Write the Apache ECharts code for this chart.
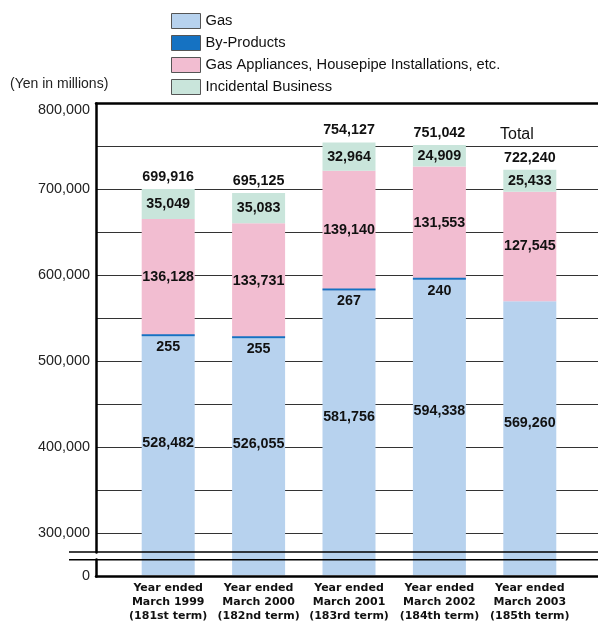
<!DOCTYPE html>
<html>
<head>
<meta charset="utf-8">
<script src="https://cdn.jsdelivr.net/npm/echarts@6/dist/echarts.min.js"></script>
<style>
  html, body { margin: 0; padding: 0; background: #fff; }
  #chart { width: 598px; height: 623px; }
</style>
</head>
<body>
<div id="chart"></div>
<script>
// data (yen in millions)
var years = [
  'Year ended\nMarch 1999\n(181st term)',
  'Year ended\nMarch 2000\n(182nd term)',
  'Year ended\nMarch 2001\n(183rd term)',
  'Year ended\nMarch 2002\n(184th term)',
  'Year ended\nMarch 2003\n(185th term)'
];
var gas = [528482, 526055, 581756, 594338, 569260];
var byProducts = [255, 255, 267, 240, '-'];
var appliances = [136128, 133731, 139140, 131553, 127545];
var incidental = [35049, 35083, 32964, 24909, 25433];
var totals = [699916, 695125, 754127, 751042, 722240];
var yLabelValues = [0, 300000, 400000, 500000, 600000, 700000, 800000];
var gridValues = [0, 300000, 350000, 400000, 450000, 500000, 550000, 600000, 650000, 700000, 750000, 800000];
var seriesNames = ['Gas', 'By-Products', 'Gas Appliances, Housepipe Installations, etc.', 'Incidental Business'];

var FONT = '"Liberation Sans", Arial, sans-serif';
var BRK_LOW = 19000, BRK_HIGH = 278300;
var fmt = function (v) { return Number(v).toLocaleString('en-US'); };

var chart = echarts.init(document.getElementById('chart'));

var valueLabel = {
  show: true,
  fontFamily: FONT,
  fontWeight: 'bold',
  fontSize: 14.3,
  color: '#111',
  formatter: function (p) { return fmt(p.value); }
};

var yBase = {
  type: 'value',
  min: 0,
  max: 800000,
  interval: 50000,
  breaks: [{ start: BRK_LOW, end: BRK_HIGH, gap: '1.6%' }],
  breakArea: { show: false }
};

var option = {
  animation: false,
  backgroundColor: '#fff',
  textStyle: { fontFamily: FONT },
  legend: {
    orient: 'vertical',
    left: 166,
    top: 8,
    itemWidth: 29,
    itemHeight: 15,
    itemGap: 6,
    icon: 'rect',
    itemStyle: { borderColor: '#555', borderWidth: 1 },
    textStyle: { fontFamily: FONT, fontSize: 14.7, color: '#111' },
    data: seriesNames
  },
  // grid 0 = frame, axes and grid lines; grid 1 = the bars
  grid: [
    { left: 96, right: 0, top: 103, bottom: 47 },
    { left: 123, right: 23, top: 103, bottom: 47 }
  ],
  xAxis: [{
    gridIndex: 0,
    type: 'category',
    data: [''],
    axisLine: { show: true, lineStyle: { color: '#000', width: 2.5 } },
    axisTick: { show: false },
    axisLabel: { show: false },
    splitLine: { show: false }
  }, {
    gridIndex: 0,
    type: 'category',
    position: 'top',
    data: [''],
    axisLine: { show: true, lineStyle: { color: '#000', width: 2.5 } },
    axisTick: { show: false },
    axisLabel: { show: false },
    splitLine: { show: false }
  }, {
    gridIndex: 1,
    type: 'category',
    data: years,
    axisLine: { show: false },
    axisTick: { show: false },
    splitLine: { show: false },
    axisLabel: {
      interval: 0,
      fontFamily: '"DejaVu Sans", Verdana, sans-serif',
      fontWeight: 'bold',
      fontSize: 11,
      lineHeight: 14,
      color: '#111',
      margin: 6
    }
  }],
  yAxis: [Object.assign({}, yBase, {
    gridIndex: 0,
    axisLine: { show: true, lineStyle: { color: '#000', width: 2.5 } },
    axisTick: { show: false, customValues: gridValues },
    splitLine: { show: true, lineStyle: { color: '#333', width: 1 } },
    axisLabel: {
      customValues: yLabelValues,
      fontFamily: FONT,
      fontSize: 14.4,
      color: '#222',
      margin: 6,
      verticalAlignMaxLabel: 'top',
      formatter: function (v) { return fmt(v); }
    }
  }), Object.assign({}, yBase, {
    gridIndex: 1,
    show: false
  })],
  series: [{
    name: seriesNames[0],
    type: 'bar',
    xAxisIndex: 2,
    yAxisIndex: 1,
    stack: 'sales',
    barWidth: 53,
    itemStyle: { color: '#b7d2ee' },
    label: Object.assign({}, valueLabel, {
      position: ['50%', '44.6%'],
      align: 'center',
      verticalAlign: 'middle'
    }),
    data: gas
  }, {
    name: seriesNames[1],
    type: 'bar',
    xAxisIndex: 2,
    yAxisIndex: 1,
    stack: 'sales',
    z: 4,
    barWidth: 53,
    barMinHeight: 2,
    itemStyle: { color: '#1572c2' },
    label: Object.assign({}, valueLabel, { position: 'bottom', distance: 4 }),
    data: byProducts
  }, {
    name: seriesNames[2],
    type: 'bar',
    xAxisIndex: 2,
    yAxisIndex: 1,
    stack: 'sales',
    barWidth: 53,
    itemStyle: { color: '#f2bdd1' },
    label: Object.assign({}, valueLabel, { position: 'inside' }),
    data: appliances
  }, {
    name: seriesNames[3],
    type: 'bar',
    xAxisIndex: 2,
    yAxisIndex: 1,
    stack: 'sales',
    barWidth: 53,
    itemStyle: { color: '#c9e5db' },
    label: Object.assign({}, valueLabel, { position: 'inside' }),
    data: incidental
  }, {
    // invisible bar over each stack, only to carry the total above it
    name: 'Total',
    type: 'bar',
    xAxisIndex: 2,
    yAxisIndex: 1,
    barWidth: 53,
    barGap: '-100%',
    silent: true,
    itemStyle: { color: 'rgba(0,0,0,0)' },
    label: Object.assign({}, valueLabel, { position: 'top', distance: 5 }),
    data: totals
  }],
  graphic: [{
    id: 'unit',
    type: 'text',
    left: 10,
    top: 77,
    style: { text: '(Yen in millions)', font: '14px ' + FONT, fill: '#222' }
  }, {
    id: 'totalCaption',
    type: 'text',
    left: 500,
    top: 127,
    style: { text: 'Total', font: '16px ' + FONT, fill: '#111' }
  }]
};

chart.setOption(option);

// the two break lines run across the bars and a little past the axis
var yLow = chart.convertToPixel({ yAxisIndex: 0 }, BRK_LOW);
var yHigh = chart.convertToPixel({ yAxisIndex: 0 }, BRK_HIGH);
chart.setOption({
  graphic: [{
    id: 'brkLow', type: 'line', z: 100, shape: { x1: 69, y1: yLow, x2: 598, y2: yLow },
    style: { stroke: '#000', lineWidth: 1.5 }
  }, {
    id: 'brkHigh', type: 'line', z: 100, shape: { x1: 69, y1: yHigh, x2: 598, y2: yHigh },
    style: { stroke: '#000', lineWidth: 1.5 }
  }]
});

window.onresize = function () { chart.resize(); };
</script>
</body>
</html>
